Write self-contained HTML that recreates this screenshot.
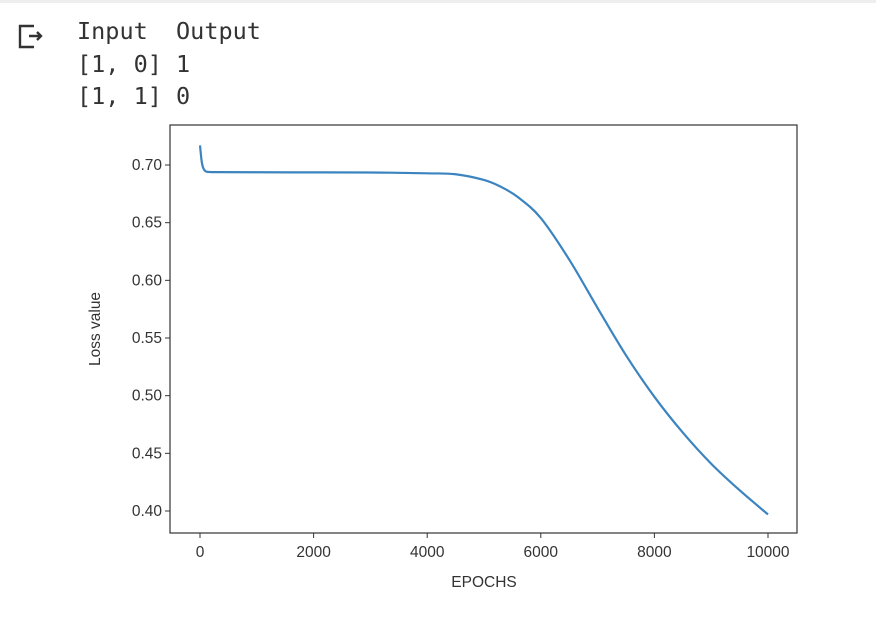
<!DOCTYPE html>
<html><head><meta charset="utf-8"><style>
body{margin:0;background:#fff;width:876px;height:637px;overflow:hidden;position:relative;font-family:"Liberation Sans",sans-serif}
#topbar{position:absolute;left:0;top:0;width:876px;height:3px;background:#eee}
#out{position:absolute;left:77px;top:15px;font-family:"DejaVu Sans Mono","Liberation Mono",monospace;font-size:23.5px;line-height:32.5px;color:#333;white-space:pre}
svg{position:absolute;left:0;top:0}
</style></head><body>
<div id="topbar"></div>
<svg width="876" height="637">
<g stroke="#333" stroke-width="2.4" fill="none">
<path d="M34 26 H20 V47 H34"/><path d="M29 36 H41 M37 32 L41 36 L37 40"/>
</g>
<g id="plot"></g>
</svg>
<div id="out">Input  Output
[1, 0] 1
[1, 1] 0</div>
<script>
const epochs=[0,30,60,100,150,300,1000,2000,3000,4000,4500,5000,5300,5600,6000,6500,7000,7500,8000,8500,9000,9500,10000];
const loss=[0.717,0.703,0.697,0.6945,0.694,0.6938,0.6937,0.6936,0.6935,0.6928,0.692,0.687,0.681,0.672,0.654,0.618,0.576,0.535,0.499,0.468,0.441,0.418,0.397];
const xTicks=[0,2000,4000,6000,8000,10000];
const yTicks=[0.40,0.45,0.50,0.55,0.60,0.65,0.70];
const L=170,R=797,T=125,B=533;
const xs=v=>200+(v/10000)*568;
const ys=v=>165+(0.70-v)/0.30*346;
const g=document.getElementById('plot');
const NS='http://www.w3.org/2000/svg';
function mk(t,a,txt){const e=document.createElementNS(NS,t);for(const k in a)e.setAttribute(k,a[k]);if(txt!=null)e.textContent=txt;g.appendChild(e);return e;}
const frame=mk('rect',{x:L,y:T,width:R-L,height:B-T,fill:'none',stroke:'#333','stroke-width':1.2});


xTicks.forEach(v=>{
 const t=mk('line',{x1:xs(v),x2:xs(v),y1:B,y2:B+5,stroke:'#333'});
 
 
 const l=mk('text',{x:xs(v),y:B+24,'text-anchor':'middle','font-size':15.5,fill:'#333'},String(v));
 
 
});
yTicks.forEach(v=>{
 const t=mk('line',{x1:L-5,x2:L,y1:ys(v),y2:ys(v),stroke:'#333'});
 
 
 const l=mk('text',{x:L-8,y:ys(v)+5,'text-anchor':'end','font-size':15.5,fill:'#333'},v.toFixed(2));
 
 
});
const xt=mk('text',{x:484,y:587,'text-anchor':'middle','font-size':15.5,fill:'#333'},'EPOCHS');


const yt=mk('text',{x:0,y:0,transform:'translate(100,329) rotate(-90)','text-anchor':'middle','font-size':15.5,fill:'#333'},'Loss value');


const pts=epochs.map((e,i)=>[xs(e),ys(loss[i])]);
let d='M'+pts[0][0]+' '+pts[0][1];
for(let i=0;i<pts.length-1;i++){const p0=pts[i-1]||pts[i],p1=pts[i],p2=pts[i+1],p3=pts[i+2]||p2;
 d+=` C${p1[0]+(p2[0]-p0[0])/6} ${p1[1]+(p2[1]-p0[1])/6} ${p2[0]-(p3[0]-p1[0])/6} ${p2[1]-(p3[1]-p1[1])/6} ${p2[0]} ${p2[1]}`;}
const line=mk('path',{d:d,fill:'none',stroke:'#3b84c0','stroke-width':2.2});


</script>
</body></html>
